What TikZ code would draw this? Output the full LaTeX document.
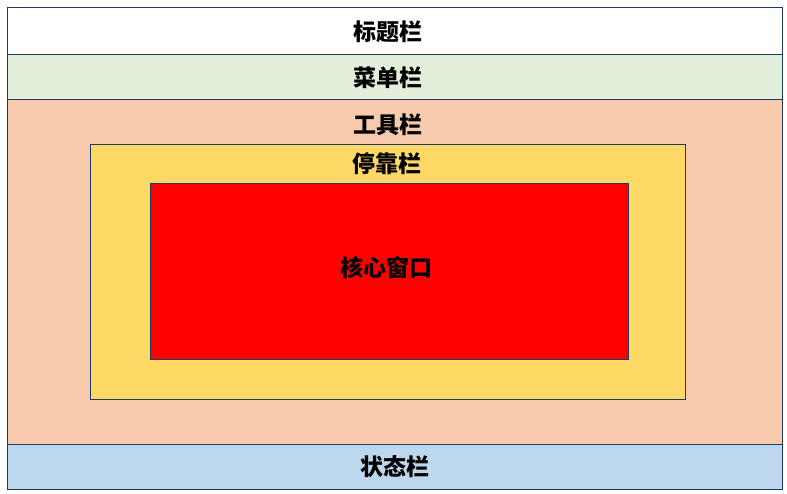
\documentclass[tikz,border=0pt]{standalone}
\usepackage{fontspec}
\newfontfamily\cjk{Noto Sans CJK SC}
\definecolor{framecol}{HTML}{203864}
\definecolor{titlecol}{HTML}{FFFFFF}
\definecolor{menucol}{HTML}{E2EFDA}
\definecolor{toolcol}{HTML}{F8CBAD}
\definecolor{dockcol}{HTML}{FFD966}
\definecolor{corecol}{HTML}{FF0000}
\definecolor{statuscol}{HTML}{BDD7EE}

\begin{document}
\begin{tikzpicture}[x=1pt,y=-1pt,
panel/.style={draw=framecol, line width=1pt, inner sep=0pt, outer sep=0pt, anchor=north west},
caption/.style={font=\cjk\bfseries\fontsize{23}{27}\selectfont, inner sep=0pt, outer sep=0pt}]
\useasboundingbox (0,0) rectangle (787,494);
% the main window, from top to bottom
\node [panel, fill=titlecol, minimum width=775pt, minimum height=47pt] (title bar) at (7,8) {};
\node [panel, fill=menucol, minimum width=775pt, minimum height=45pt] (menu bar) at (7,55) {};
\node [panel, fill=toolcol, minimum width=775pt, minimum height=344pt] (tool bar) at (7,100) {};
\node [panel, fill=statuscol, minimum width=775pt, minimum height=45pt] (status bar) at (7,444) {};
% docking area and the core window inside the tool bar
\node [panel, fill=dockcol, minimum width=595pt, minimum height=254pt] (dock area) at (90,145) {};
\node [panel, fill=corecol, minimum width=478pt, minimum height=175pt] (core window) at (150,184) {};
% labels
\node [caption] (title label) at (387.5,32) {标题栏};
\node [caption] (menu label) at (387.5,77.5) {菜单栏};
\node [caption] (tool label) at (387.5,124.5) {工具栏};
\node [caption] (dock label) at (387,164) {停靠栏};
\node [caption] (core label) at (386.5,267.5) {核心窗口};
\node [caption] (status label) at (394.5,466.5) {状态栏};
\end{tikzpicture}
\end{document}
